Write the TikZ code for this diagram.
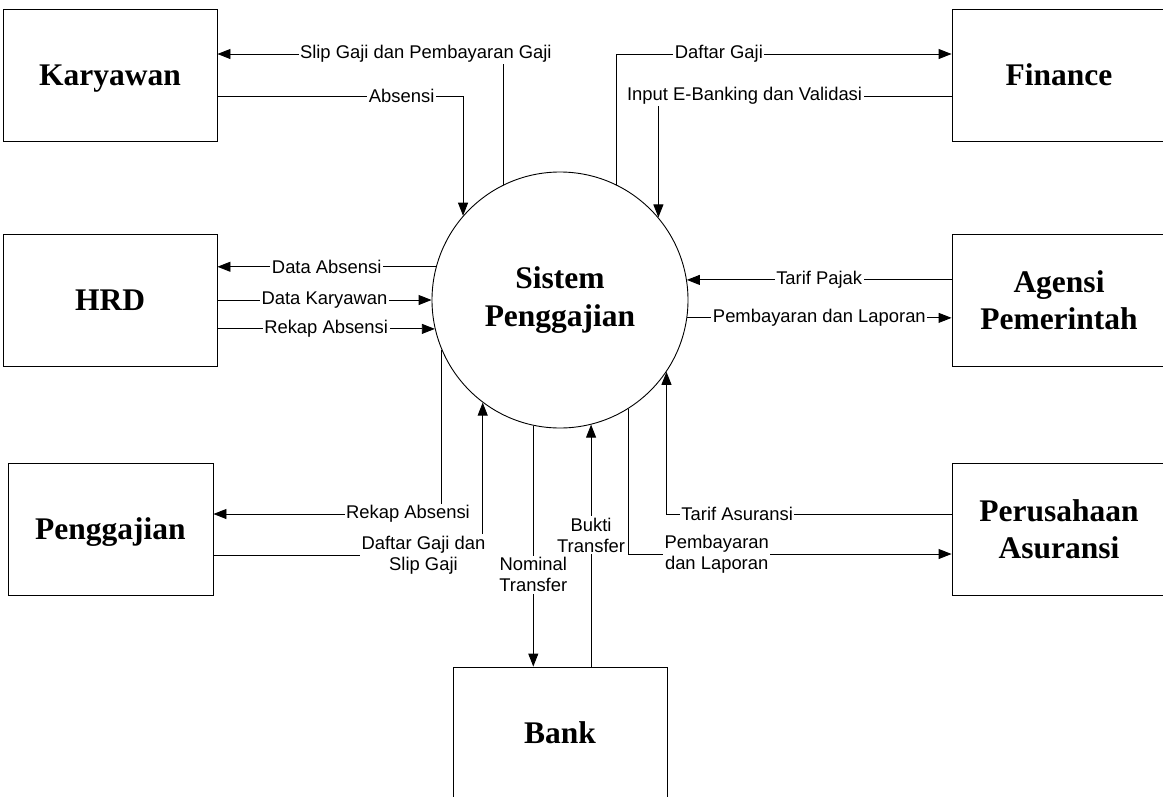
\documentclass[tikz,border=0pt]{standalone}
\usepackage{fontspec}
\setmainfont{Liberation Serif}
\newfontfamily\lblfont{Liberation Sans}
\usetikzlibrary{arrows.meta}
\tikzset{
  entity/.style={draw=black, line width=0.9pt, minimum width=214pt, minimum height=132pt, inner sep=0pt,
    font=\bfseries\fontsize{31.5}{37}\selectfont, align=center},
  proc/.style={draw=black, line width=0.9pt, circle, minimum size=256pt, inner sep=0pt,
    font=\bfseries\fontsize{31.5}{38}\selectfont, align=center},
  flow/.style={line width=0.9pt, -{Triangle[length=13pt,width=10pt]}},
  lbl/.style={fill=white, inner sep=1.5pt, font=\lblfont\fontsize{18.4}{21}\selectfont, align=center}
}
\begin{document}
\begin{tikzpicture}[x=1pt,y=-1pt]
\useasboundingbox (0,0) rectangle (1163,796);
\clip (0,0) rectangle (1163,796);
% entities
\node[entity, text depth=0pt] (k)  at (110,75)   {Karyawan};
\node[entity] (h)  at (110,300)  {HRD};
\node[entity, minimum width=205pt, text depth=0pt] (p) at (110.5,529) {Penggajian};
\node[entity] (f)  at (1059,75)  {Finance};
\node[entity] (a)  at (1059,300) {Agensi\\Pemerintah};
\node[entity] (pa) at (1059,529) {Perusahaan\\Asuransi};
\node[entity] (b)  at (560,733)  {Bank};
% process
\node[proc] (c) at (560,300) {Sistem\\Penggajian};
% flows
\draw[flow] (c.116.45) |- node[lbl, pos=0.636] (l1) {Slip Gaji dan Pembayaran Gaji} ([yshift=21pt]k.east);
\draw[flow] ([yshift=-21pt]k.east) -| node[lbl, pos=0.375] (l2) {Absensi} (c.139.27);
\draw[flow] (c.64.06) |- node[lbl, pos=0.653] (l3) {Daftar Gaji} ([yshift=21pt]f.west);
\draw[flow] ([yshift=-21pt]f.west) -| node[lbl, pos=0.353] (l4) {Input E-Banking dan Validasi} (c.40.73);
\draw[flow] (c.165.52) -- node[lbl] (l5) {Data Absensi} (c.165.52 -| h.east);
\draw[flow] (h.east) -- node[lbl] (l6) {Data Karyawan} (c.west);
\draw[flow] (c.193.55 -| h.east) -- node[lbl] (l7) {Rekap Absensi} (c.193.55);
\draw[flow] (c.9.44 -| a.west) -- node[lbl] (l8) {Tarif Pajak} (c.9.44);
\draw[flow] (c.-8.99) -- node[lbl] (l9) {Pembayaran dan Laporan} (c.-8.99 -| a.west);
\draw[flow] (c.203.92) |- node[lbl, pos=0.574] (l10) {Rekap Absensi} ([yshift=15pt]p.east);
\draw[flow] ([yshift=-26pt]p.east) -| node[lbl, pos=0.39] (l11) {Daftar Gaji dan\\Slip Gaji} (c.233.02);
\draw[flow] (c.258.74) -- node[lbl, pos=0.619] (l12) {Nominal\\Transfer} (c.258.74 |- b.north);
\draw[flow] (c.284.02 |- b.north) -- node[lbl, pos=0.543] (l13) {Bukti\\Transfer} (c.284.02);
\draw[flow] (c.-58.44) |- node[lbl, pos=0.637] (l14) {Pembayaran\\dan Laporan} ([yshift=-25pt]pa.west);
\draw[flow] ([yshift=15pt]pa.west) -| node[lbl, pos=0.376] (l15) {Tarif Asuransi} (c.-34.1);
\end{tikzpicture}
\end{document}
